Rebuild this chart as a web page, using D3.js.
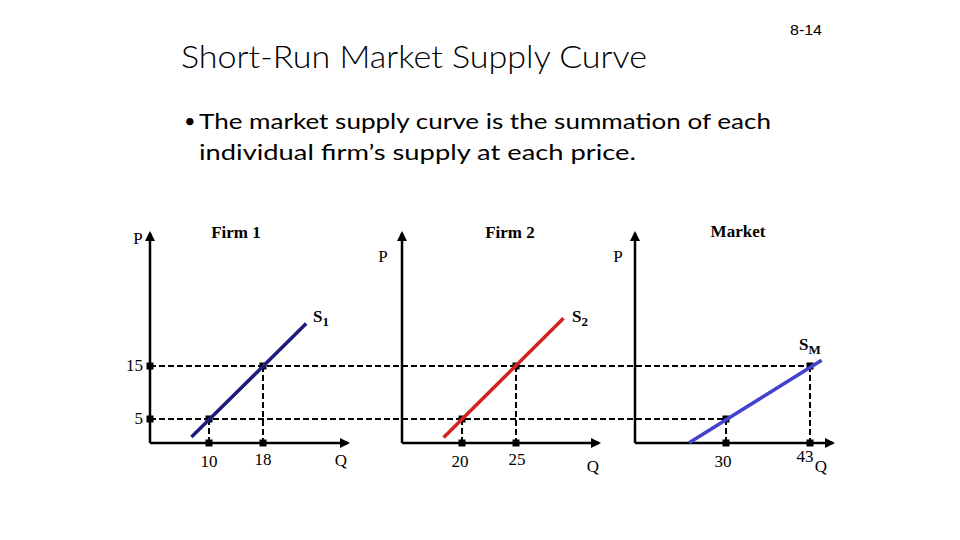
<!DOCTYPE html>
<html>
<head>
<meta charset="utf-8">
<script src="https://cdn.jsdelivr.net/npm/d3@7"></script>
<style>
    body { margin: 0; background: #fff; }
    svg { display: block; }
</style>
</head>
<body>
<div id="chart_parent"></div>
<script>
// values
const priceTicks = [5, 15];
const firm1Qty = [10, 18];
const firm2Qty = [20, 25];
const marketQty = [30, 43];
const firm1Supply = [[7.4, 1.6], [24.4, 23]];
const firm2Supply = [[18.3, 1.5], [29.4, 24]];
const marketSupply = [[24.3, 0.5], [44.8, 16.1]];
const panelTitles = ['Firm 1', 'Firm 2', 'Market'];
const supplyNames = ['1', '2', 'M'];

const config = {
    width: 960,
    height: 540,
    axisBottom: 443,
    axisTop: 233,
    font: '"Liberation Serif", "Times New Roman", serif',
};

const svg = d3.select('#chart_parent').append('svg')
    .attr('width', config.width)
    .attr('height', config.height);

svg.append('defs').append('marker')
    .attr('id', 'arrow')
    .attr('viewBox', '0 0 10 10')
    .attr('refX', 8)
    .attr('refY', 5)
    .attr('markerWidth', 4)
    .attr('markerHeight', 4)
    .attr('orient', 'auto')
    .append('path')
    .attr('d', 'M0,0 L10,5 L0,10 z')
    .attr('fill', '#000');

// header texts
svg.append('text')
    .attr('x', 822).attr('y', 35)
    .attr('text-anchor', 'end')
    .attr('textLength', 32)
    .attr('lengthAdjust', 'spacingAndGlyphs')
    .style('font', '15px "Liberation Sans", Arial, sans-serif')
    .text('8-14');

svg.append('text')
    .attr('x', 181).attr('y', 68)
    .attr('textLength', 466)
    .attr('lengthAdjust', 'spacingAndGlyphs')
    .style('font', '300 31px Lato, sans-serif')
    .text('Short-Run Market Supply Curve');

svg.append('text')
    .attr('x', 184).attr('y', 128)
    .style('font', '400 20px Lato, sans-serif')
    .text('•');

const bodyLines = [
    { text: 'The market supply curve is the summation of each', y: 129, len: 572 },
    { text: 'individual firm’s supply at each price.', y: 160, len: 437 },
];
svg.selectAll('.body-line').data(bodyLines).enter().append('text')
    .attr('class', 'body-line')
    .attr('x', 199)
    .attr('y', d => d.y)
    .attr('textLength', d => d.len)
    .attr('lengthAdjust', 'spacingAndGlyphs')
    .style('font', '400 22px Lato, sans-serif')
    .text(d => d.text);

// shared price scale
const yScale = d3.scaleLinear()
    .domain([5, 15])
    .range([419, 366]);

const panels = [
    {
        origin: 150, end: 348, qty: firm1Qty, supply: firm1Supply, color: '#1c1c7c',
        x: d3.scaleLinear().domain(firm1Qty).range([209, 263]),
    },
    {
        origin: 402, end: 599, qty: firm2Qty, supply: firm2Supply, color: '#d42222',
        x: d3.scaleLinear().domain(firm2Qty).range([462, 516]),
    },
    {
        origin: 635, end: 833, qty: marketQty, supply: marketSupply, color: '#4343cf',
        x: d3.scaleLinear().domain(marketQty).range([726, 810]),
    },
];
const marketX = panels[2].x;

const dashG = svg.append('g')
    .attr('stroke', '#000')
    .attr('stroke-width', 2)
    .attr('stroke-dasharray', '6,3');

// horizontal price guides run across all three panels
priceTicks.forEach((p, i) => {
    dashG.append('line')
        .attr('x1', panels[0].origin)
        .attr('x2', marketX(marketQty[i]))
        .attr('y1', yScale(p))
        .attr('y2', yScale(p));
});

// vertical guides
panels.forEach(panel => {
    panel.qty.forEach((q, i) => {
        dashG.append('line')
            .attr('x1', panel.x(q))
            .attr('x2', panel.x(q))
            .attr('y1', yScale(priceTicks[i]))
            .attr('y2', config.axisBottom);
    });
});

// axes
const axisG = svg.append('g')
    .attr('stroke', '#000')
    .attr('stroke-width', 2.5)
    .attr('fill', 'none');

panels.forEach(panel => {
    axisG.append('line')
        .attr('x1', panel.origin).attr('x2', panel.origin)
        .attr('y1', config.axisBottom).attr('y2', config.axisTop)
        .attr('marker-end', 'url(#arrow)');
    axisG.append('line')
        .attr('x1', panel.origin).attr('x2', panel.end)
        .attr('y1', config.axisBottom).attr('y2', config.axisBottom)
        .attr('marker-end', 'url(#arrow)');
});

// square markers
const squares = [];
priceTicks.forEach(p => squares.push([panels[0].origin, yScale(p)]));
panels.forEach(panel => {
    panel.qty.forEach((q, i) => {
        squares.push([panel.x(q), config.axisBottom]);
        squares.push([panel.x(q), yScale(priceTicks[i])]);
    });
});
svg.append('g').selectAll('rect').data(squares).enter().append('rect')
    .attr('x', d => d[0] - 3.5)
    .attr('y', d => d[1] - 3.5)
    .attr('width', 7)
    .attr('height', 7)
    .attr('fill', '#000');

// supply curves
const supplyLine = panel => d3.line()
    .x(d => panel.x(d[0]))
    .y(d => yScale(d[1]));

panels.forEach(panel => {
    svg.append('path')
        .attr('d', supplyLine(panel)(panel.supply))
        .attr('fill', 'none')
        .attr('stroke', panel.color)
        .attr('stroke-width', 3.5);
});

// serif labels
const labelG = svg.append('g')
    .style('font-family', config.font)
    .style('font-size', '17px')
    .attr('fill', '#000');

const titlePos = [[236, 238], [510, 238], [738, 237]];
panelTitles.forEach((t, i) => {
    labelG.append('text')
        .attr('x', titlePos[i][0]).attr('y', titlePos[i][1])
        .attr('text-anchor', 'middle')
        .style('font-weight', 'bold')
        .text(t);
});

const pLabels = [[138, 244], [383, 262], [618, 262]];
pLabels.forEach(d => {
    labelG.append('text')
        .attr('x', d[0]).attr('y', d[1])
        .attr('text-anchor', 'middle')
        .text('P');
});

labelG.selectAll('.price-label').data(priceTicks).enter().append('text')
    .attr('class', 'price-label')
    .attr('x', 143)
    .attr('y', d => yScale(d) + 5)
    .attr('text-anchor', 'end')
    .text(d => d);

// quantity tick labels; market 43 sits slightly raised beside Q
const qtyLift = [[0, 2], [0, 2], [0, 5]];
const qtyShift = [[0, 0], [-2, 1], [-3, -5]];
panels.forEach((panel, pi) => {
    panel.qty.forEach((q, i) => {
        labelG.append('text')
            .attr('x', panel.x(q) + qtyShift[pi][i])
            .attr('y', config.axisBottom + 24 - qtyLift[pi][i])
            .attr('text-anchor', 'middle')
            .text(q);
    });
});

const qLabels = [[341, 466], [593, 472], [821, 472]];
qLabels.forEach(d => {
    labelG.append('text')
        .attr('x', d[0]).attr('y', d[1])
        .attr('text-anchor', 'middle')
        .text('Q');
});

// supply curve names with subscripts
const supplyLabelPos = [[313, 322], [572, 322], [799, 350]];
supplyNames.forEach((name, i) => {
    const t = labelG.append('text')
        .attr('x', supplyLabelPos[i][0])
        .attr('y', supplyLabelPos[i][1])
        .style('font-weight', 'bold');
    t.append('tspan').text('S');
    t.append('tspan')
        .attr('dy', 4)
        .style('font-size', '13px')
        .text(name);
});
</script>
</body>
</html>
